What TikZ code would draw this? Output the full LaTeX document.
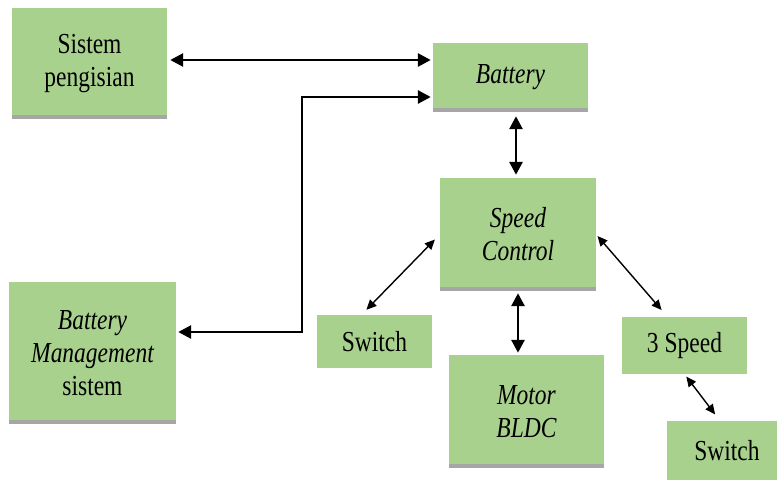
\documentclass[tikz,border=0pt]{standalone}
\usepackage{fontspec}
\setmainfont{Liberation Serif}[FakeStretch=0.81]
\usetikzlibrary{arrows.meta}
\definecolor{boxgreen}{HTML}{A9D18E}
\definecolor{shadowgray}{HTML}{A6A6A6}

\begin{document}
\begin{tikzpicture}[x=1pt,y=-1pt,box/.style={fill=boxgreen, inner sep=0pt, align=center, font=\fontsize{29}{33}\selectfont},shadowed/.style={box, path picture={\fill[shadowgray] (path picture bounding box.south west) rectangle ([yshift=4pt]path picture bounding box.south east);}},link/.style={{Triangle[length=13pt,width=13pt]}-{Triangle[length=13pt,width=13pt]}, line width=2.8pt},thinlink/.style={{Triangle[length=10pt,width=9pt]}-{Triangle[length=10pt,width=9pt]}, line width=1.4pt}]
\useasboundingbox (0,0) rectangle (777,480);
\node[shadowed, minimum width=155pt, minimum height=111pt] (charger) at (89.5,63.5) {Sistem\\pengisian};
\node[shadowed, minimum width=155pt, minimum height=69pt] (battery) at (510.5,77.5) {\itshape Battery};
\node[shadowed, minimum width=156pt, minimum height=113pt] (speedctl) at (518,234.5) {\itshape Speed\\\itshape Control};
\node[shadowed, minimum width=167pt, minimum height=142pt] (bms) at (92.5,353) {\itshape Battery\\\itshape Management\\sistem};
\node[box, minimum width=115pt, minimum height=53pt] (switchl) at (374.5,341.5) {Switch};
\node[shadowed, minimum width=155pt, minimum height=113pt] (motor) at (526.5,411.5) {\itshape Motor\\\itshape BLDC};
\node[box, minimum width=125pt, minimum height=57pt] (threespd) at (684.5,345.5) {3 Speed};
\node[box, minimum width=120pt, minimum height=59pt] (switchr) at (727,450.5) {Switch};
% connectors
\coordinate (chg) at (300,60); \coordinate (elbowlow) at (302,332); \coordinate (elbowhigh) at (302,97); \coordinate (col) at (516,0);
\draw[link, shorten <=3pt, shorten >=2pt] (charger.east |- chg) -- (battery.west |- chg);
\draw[link, shorten <=2pt, shorten >=2pt] (bms.east |- elbowlow) -- (elbowlow) -- (elbowhigh) -- (battery.west |- elbowhigh);
\draw[link, shorten <=4pt, shorten >=3pt] (battery.south -| col) -- (speedctl.north -| col);
\draw[link, shorten <=2pt, shorten >=2pt] (speedctl.south) -- (speedctl.south |- motor.north);
\draw[thinlink, shorten <=7pt, shorten >=7pt] (speedctl.west) -- ([xshift=-13pt]switchl.north);
\draw[thinlink, shorten <=2pt, shorten >=9pt] (speedctl.east) -- ([xshift=-17pt]threespd.north);
\draw[thinlink, shorten <=3pt, shorten >=8pt] (threespd.south) -- ([xshift=-7pt]switchr.north);
\end{tikzpicture}
\end{document}
